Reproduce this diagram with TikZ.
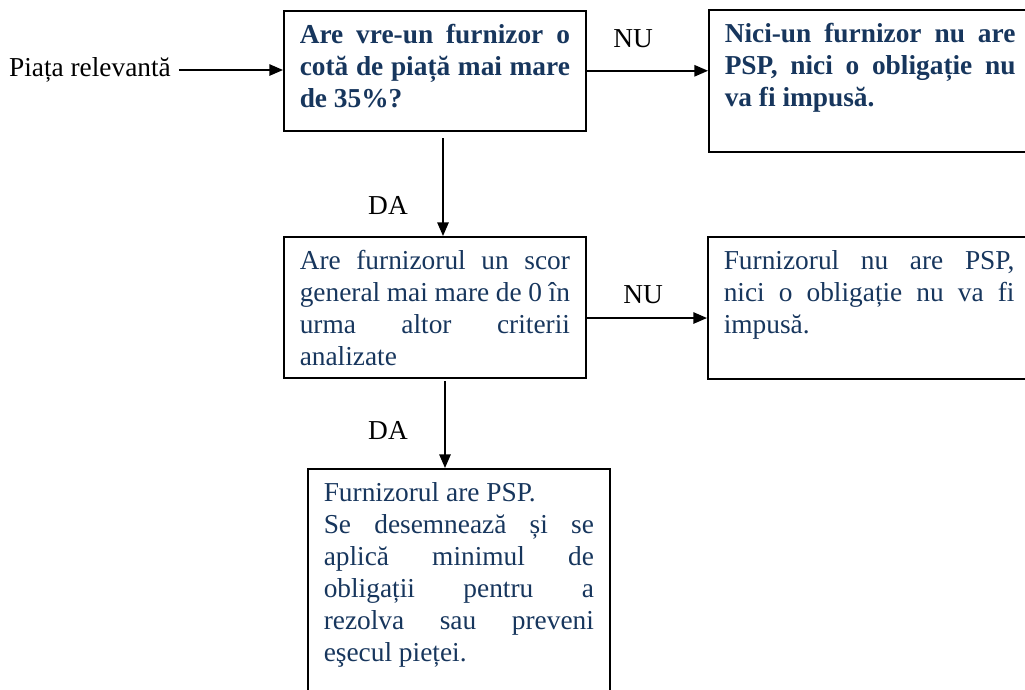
\documentclass[tikz,border=0pt]{standalone}
\usepackage{fontspec}
\setmainfont{Liberation Serif}
\usetikzlibrary{arrows.meta}
\definecolor{navy}{RGB}{23,54,93}
\hyphenpenalty=10000
\exhyphenpenalty=10000
\hbadness=10000
% width, height, text of a box, first line set from the top
\newcommand{\boxtext}[3]{\parbox[c][#2][t]{#1}{\rule{0pt}{14.5pt}#3}}
\tikzset{
  box/.style={draw,line width=0.7pt,anchor=north west,inner xsep=7pt,inner ysep=0pt,text=navy,font=\fontsize{12}{14}\selectfont},
  arr/.style={line width=0.7pt,-{Triangle[length=6pt,width=5pt]}},
  lbl/.style={font=\fontsize{12}{14}\selectfont}
}
\begin{document}
\begin{tikzpicture}[x=0.4386pt,y=-0.4386pt]
\useasboundingbox (0,0) rectangle (1025,689);
\clip (0,0) rectangle (1025,689);
% boxes
\node[box] (q1) at (283,10){\boxtext{118.5pt}{52.6pt}{\bfseries Are vre-un furnizor o\linebreak cotă de piață mai mare\linebreak de 35\%?}};
\node[box] (no1) at (708,9){\boxtext{127.5pt}{62.3pt}{\bfseries Nici-un furnizor nu are\linebreak PSP, nici o obligație nu\linebreak va fi impusă.}};
\node[box] (q2) at (283,236){\boxtext{118.5pt}{61.8pt}{Are furnizorul un scor\linebreak general mai mare de 0 în\linebreak urma altor criterii\linebreak analizate}};
\node[box] (no2) at (707,236){\boxtext{127.5pt}{62.3pt}{Furnizorul nu are PSP,\linebreak nici o obligație nu va fi\linebreak impusă.}};
\node[box] (yes) at (307,468){\boxtext{118.5pt}{114pt}{Furnizorul are PSP.\\ Se desemnează și se\linebreak aplică minimul de\linebreak obligații pentru a\linebreak rezolva sau preveni\linebreak eşecul pieței.}};
% labels
\node[lbl,anchor=west] (pr) at (1,70){Piața relevantă};
\node[lbl] (nu1) at (633,39){NU};
\node[lbl] (nu2) at (643,295){NU};
\node[lbl] (da1) at (388,205){DA};
\node[lbl] (da2) at (388,430){DA};
% arrows
\coordinate (a1) at (443,138);
\coordinate (a2) at (445,381);
\draw[arr] (pr.east) -- (pr.east -| q1.west);
\draw[arr] (q1.east) -- (q1.east -| no1.west);
\draw[arr] (a1) -- (a1 |- q2.north);
\draw[arr] (q2.east |- 0,318) -- (no2.west |- 0,318);
\draw[arr] (a2) -- (a2 |- yes.north);
\end{tikzpicture}
\end{document}
